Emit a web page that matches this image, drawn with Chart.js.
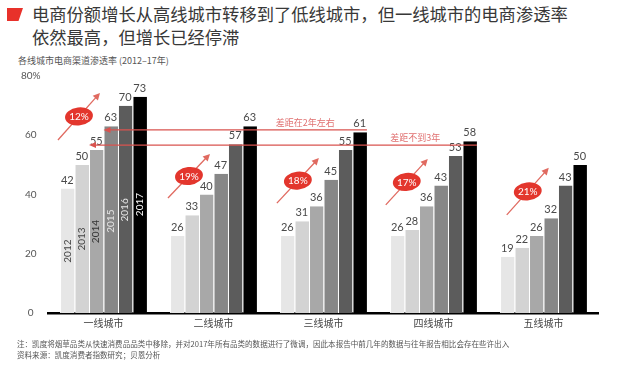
<!DOCTYPE html>
<html>
<head>
<meta charset="utf-8">
<script src="https://cdn.jsdelivr.net/npm/chart.js@4.4.1/dist/chart.umd.min.js"></script>
<style>
  body { margin: 0; width: 640px; height: 369px; background: #fff; overflow: hidden; position: relative;
         font-family: "Noto Sans CJK SC", sans-serif; }
  #chart { position: absolute; left: 0; top: 0; }
  .mark { position: absolute; left: 7px; top: 8px; width: 16px; height: 13px; background: #e8312a;
          clip-path: polygon(0 0, 100% 0, 72% 100%, 0 100%); }
  .title { position: absolute; left: 32px; top: 2px; font-size: 17.3px; line-height: 23px; color: #383838; white-space: nowrap; }
  .sub { position: absolute; left: 18px; top: 54px; font-size: 9px; line-height: 13px; color: #555; white-space: nowrap; }
  .note { position: absolute; left: 17px; top: 339px; font-size: 7.55px; line-height: 10.5px; color: #555; white-space: nowrap; }
</style>
</head>
<body>
<div class="mark"></div>
<div class="title">电商份额增长从高线城市转移到了低线城市，但一线城市的电商渗透率<br>依然最高，但增长已经停滞</div>
<div class="sub">各线城市电商渠道渗透率 (2012–17年)</div>
<canvas id="chart" width="640" height="369"></canvas>
<div class="note">注：凯度将烟草品类从快速消费品品类中移除，并对2017年所有品类的数据进行了微调，因此本报告中前几年的数据与往年报告相比会存在些许出入<br>资料来源：凯度消费者指数研究；贝恩分析</div>

<script>
const cities = ['一线城市', '二线城市', '三线城市', '四线城市', '五线城市'];
const years = ['2012', '2013', '2014', '2015', '2016', '2017'];
const v2012 = [42, 26, 26, 26, 19];
const v2013 = [50, 33, 31, 28, 22];
const v2014 = [55, 40, 36, 36, 26];
const v2015 = [63, 47, 45, 43, 32];
const v2016 = [70, 57, 55, 53, 43];
const v2017 = [73, 63, 61, 58, 50];
const growth = ['12%', '19%', '18%', '17%', '21%'];
const yTicks = [0, 20, 40, 60, 80];

const series = [v2012, v2013, v2014, v2015, v2016, v2017];
const barColors = ['#e6e6e6', '#d3d3d3', '#a8a8a8', '#878787', '#5c5c5c', '#000000'];
const yearTextColors = ['#444', '#444', '#333', '#e6e6e6', '#e6e6e6', '#ffffff'];
const RED = '#e3362d';

// growth arrows: value at tail / head, x offset in category widths
const arrows = [
  { from: 58.4, to: 74.3, dx: 0 },
  { from: 38.8, to: 53.7, dx: 0 },
  { from: 37.1, to: 52.3, dx: -0.01 },
  { from: 36.5, to: 52.0, dx: -0.02 },
  { from: 33.1, to: 49.0, dx: 0.08 }
];
// year labels inside first group bars (value at text centre)
const yearLabelAt = [20.9, 25, 27.5, 31, 34.8, 36.6];
// gap lines: from left edge of [city, year] to right edge of [city, year]
const gaps = [
  { text: '差距在2年左右', from: [0, 3], to: [2, 5], value: 61.8 },
  { text: '差距不到3年', from: [0, 2], to: [3, 5], value: 56.7 }
];

const decor = {
  id: 'decor',
  afterDatasetsDraw(chart) {
    const ctx = chart.ctx;
    const x = chart.scales.x, y = chart.scales.y;
    const cat = x.getPixelForValue(1) - x.getPixelForValue(0);
    ctx.save();

    // value labels
    ctx.font = '11px Lato, "Noto Sans", sans-serif';
    ctx.fillStyle = '#4a4a4a';
    ctx.textAlign = 'center';
    ctx.textBaseline = 'bottom';
    series.forEach((vals, d) => {
      chart.getDatasetMeta(d).data.forEach((el, i) => ctx.fillText(vals[i], el.x, el.y - 3));
    });

    // year labels in first group
    ctx.font = '10px Lato, "Noto Sans", sans-serif';
    ctx.textBaseline = 'middle';
    years.forEach((yr, d) => {
      const el = chart.getDatasetMeta(d).data[0];
      ctx.save();
      ctx.translate(el.x, y.getPixelForValue(yearLabelAt[d]));
      ctx.rotate(-Math.PI / 2);
      ctx.fillStyle = yearTextColors[d];
      ctx.fillText(yr, 0, 0);
      ctx.restore();
    });

    // gap lines
    ctx.strokeStyle = '#d9534f';
    ctx.fillStyle = '#d9534f';
    ctx.lineWidth = 1.2;
    gaps.forEach(g => {
      const a = chart.getDatasetMeta(g.from[1]).data[g.from[0]];
      const b = chart.getDatasetMeta(g.to[1]).data[g.to[0]];
      const x0 = a.x - a.width / 2, x1 = b.x + b.width / 2;
      const py = y.getPixelForValue(g.value);
      ctx.beginPath();
      ctx.moveTo(x0 + 5, py);
      ctx.lineTo(x1, py);
      ctx.stroke();
      ctx.beginPath();
      ctx.moveTo(x0, py);
      ctx.lineTo(x0 + 7, py - 3);
      ctx.lineTo(x0 + 7, py + 3);
      ctx.closePath();
      ctx.fill();
      ctx.font = '9px "Noto Sans CJK SC", sans-serif';
      ctx.fillStyle = '#e07070';
      ctx.textAlign = 'center';
      ctx.textBaseline = 'bottom';
      ctx.fillText(g.text, x1 - 0.56 * cat, py - 3);
      ctx.fillStyle = '#d9534f';
    });

    // growth arrows with ellipse badges
    arrows.forEach((ar, i) => {
      const cx = x.getPixelForValue(i);
      const x0 = cx + (-0.414 + ar.dx) * cat, x1 = cx + (-0.032 + ar.dx) * cat;
      const y0 = y.getPixelForValue(ar.from), y1 = y.getPixelForValue(ar.to);
      const ang = Math.atan2(y1 - y0, x1 - x0);
      ctx.strokeStyle = '#e06a60';
      ctx.fillStyle = '#e06a60';
      ctx.lineWidth = 1.3;
      ctx.beginPath();
      ctx.moveTo(x0, y0);
      ctx.lineTo(x1 - 5 * Math.cos(ang), y1 - 5 * Math.sin(ang));
      ctx.stroke();
      ctx.save();
      ctx.translate(x1, y1);
      ctx.rotate(ang);
      ctx.beginPath();
      ctx.moveTo(0, 0);
      ctx.lineTo(-7, -3.5);
      ctx.lineTo(-7, 3.5);
      ctx.closePath();
      ctx.fill();
      ctx.restore();
      const mx = (x0 + x1) / 2, my = (y0 + y1) / 2;
      ctx.fillStyle = RED;
      ctx.beginPath();
      ctx.ellipse(mx, my, 14, 9, -0.12, 0, Math.PI * 2);
      ctx.fill();
      ctx.fillStyle = '#fff';
      ctx.font = '10px Lato, "Noto Sans", sans-serif';
      ctx.textAlign = 'center';
      ctx.textBaseline = 'middle';
      ctx.fillText(growth[i], mx, my + 0.5);
    });

    ctx.restore();
  }
};

new Chart(document.getElementById('chart'), {
  type: 'bar',
  data: {
    labels: cities,
    datasets: years.map((yr, d) => ({
      label: yr,
      data: series[d],
      backgroundColor: barColors[d],
      borderColor: '#ffffff',
      borderWidth: { left: 1, right: 0, top: 0, bottom: 0 },
      borderSkipped: false,
      barPercentage: 1,
      categoryPercentage: 0.79
    }))
  },
  options: {
    responsive: false,
    animation: false,
    devicePixelRatio: 1,
    layout: { padding: { left: 0, right: 41.5, top: 76, bottom: 36 } },
    plugins: { legend: { display: false }, tooltip: { enabled: false } },
    scales: {
      x: {
        grid: { display: false, drawTicks: false },
        border: { display: true, color: '#000', width: 2.5 },
        ticks: { color: '#444', padding: 4, font: { size: 10, family: '"Noto Sans CJK SC", sans-serif' } },
        afterFit: s => { s.height = 20; }
      },
      y: {
        min: 0, max: 80,
        afterBuildTicks: s => { s.ticks = yTicks.map(v => ({ value: v })); },
        grid: { display: false, drawTicks: false },
        border: { display: false },
        ticks: {
          color: '#555', padding: 8, crossAlign: 'center',
          font: { size: 10, family: 'Lato, "Noto Sans", sans-serif' },
          callback: v => v === 80 ? '80%' : v
        },
        afterFit: s => { s.width = 48.5; }
      }
    }
  },
  plugins: [decor]
});
</script>
</body>
</html>
